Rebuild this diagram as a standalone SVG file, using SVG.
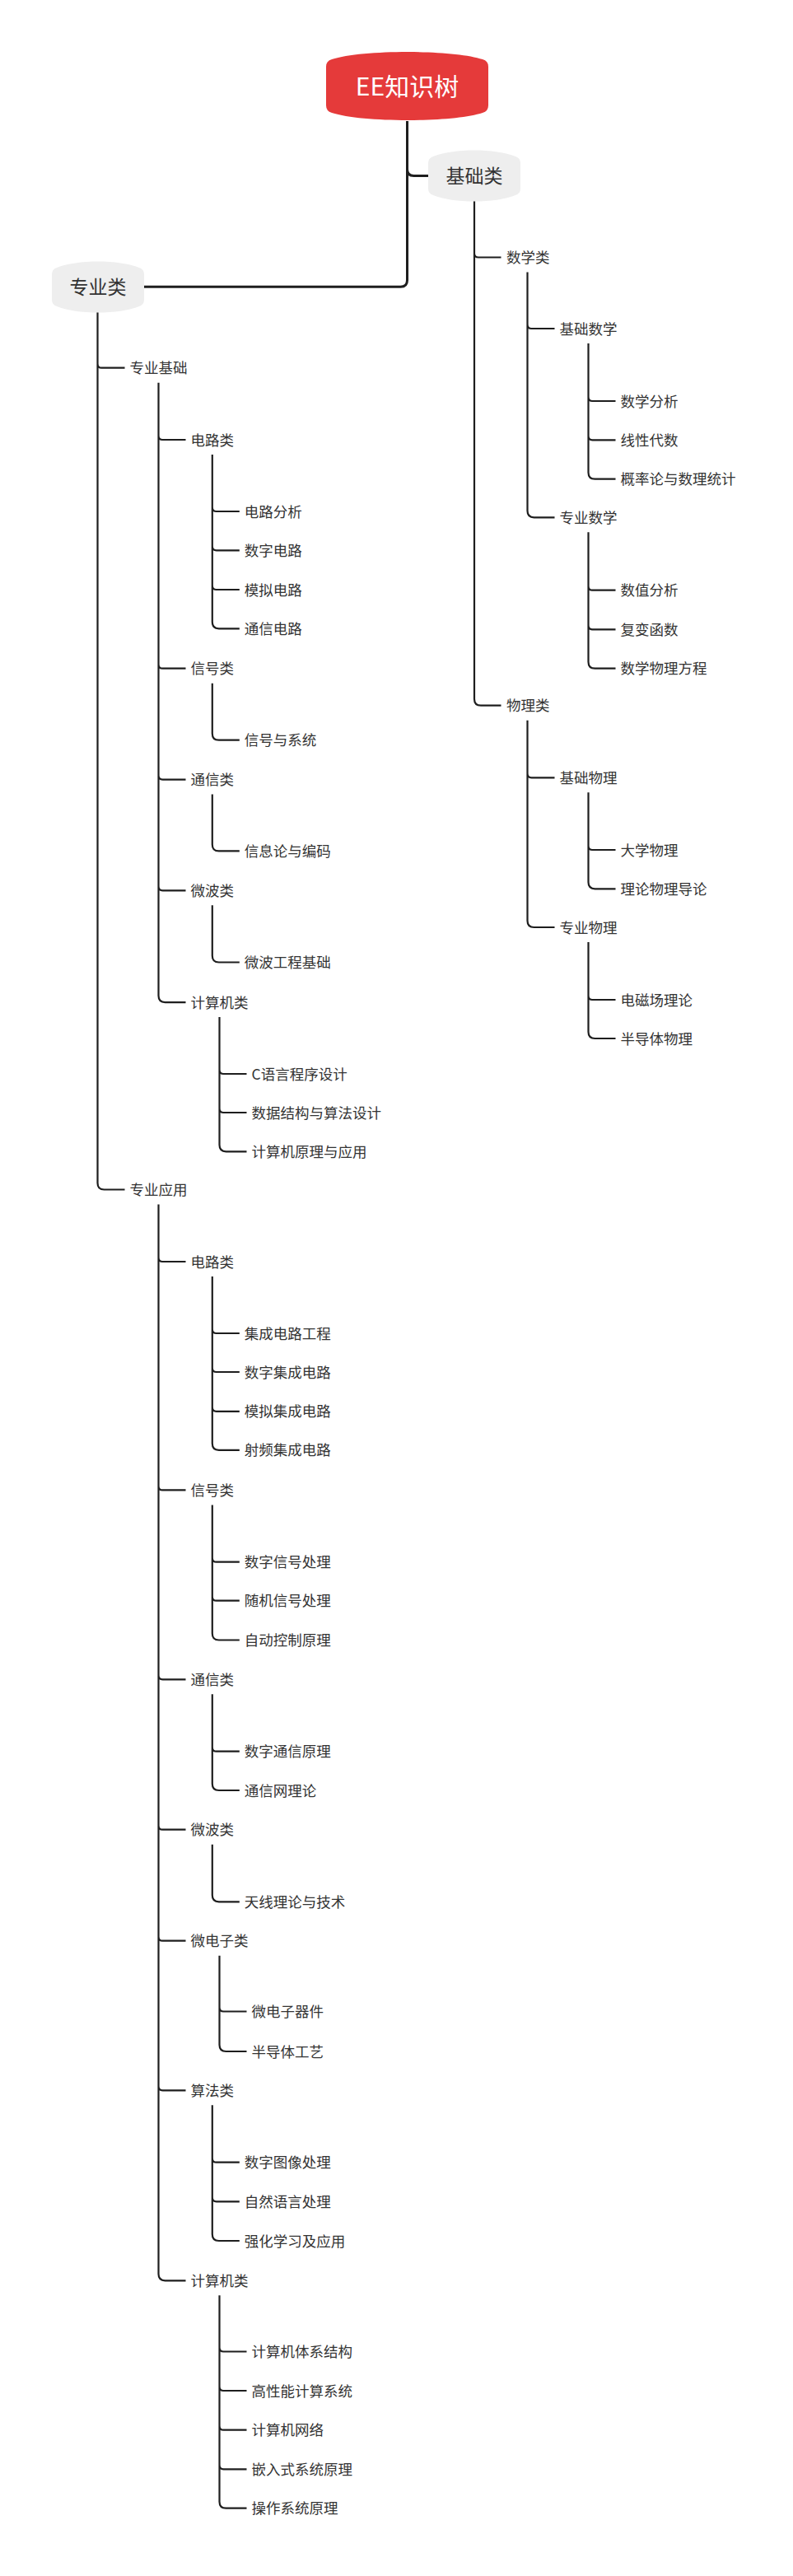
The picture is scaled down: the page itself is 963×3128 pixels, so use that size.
<svg xmlns="http://www.w3.org/2000/svg" width="963" height="3128" viewBox="0 0 963 3128">
<style>
.c1{fill:none;stroke:#1e1e1e;stroke-width:3}
.c{fill:none;stroke:#1e1e1e;stroke-width:2.2}
.t{font-family:"Noto Sans CJK SC","Liberation Sans",sans-serif;font-size:17.5px;fill:#333}
.t1{font-family:"Noto Sans CJK SC","Liberation Sans",sans-serif;font-size:23px;fill:#333;text-anchor:middle}
.t0{font-family:"Noto Sans CJK SC","Liberation Sans",sans-serif;font-size:30px;fill:#fff;text-anchor:middle}
.n1{fill:#eeeeee}
</style>
<rect width="963" height="3128" fill="#fff"/>
<g id="connectors">
<path class="c1" d="M494.5,147 V340.3 Q494.5,348.3 486.5,348.3 H175 M494.5,205.5 Q494.5,213.5 502.5,213.5 H520"/>
<path class="c" d="M576,244 V848.7 Q576,856.7 584,856.7 H608.5 M576,307.5 Q576,312.5 581,312.5 H608.5"/>
<path class="c" d="M640.5,330.5 V620.3 Q640.5,628.3 648.5,628.3 H673.5 M640.5,394 Q640.5,399 645.5,399 H673.5"/>
<path class="c" d="M714.5,417 V573.7 Q714.5,581.7 722.5,581.7 H747.5 M714.5,482 Q714.5,487 719.5,487 H747.5 M714.5,529.3 Q714.5,534.3 719.5,534.3 H747.5"/>
<path class="c" d="M714.5,646.3 V803.7 Q714.5,811.7 722.5,811.7 H747.5 M714.5,711.7 Q714.5,716.7 719.5,716.7 H747.5 M714.5,759.3 Q714.5,764.3 719.5,764.3 H747.5"/>
<path class="c" d="M640.5,874.7 V1118 Q640.5,1126 648.5,1126 H673.5 M640.5,939.3 Q640.5,944.3 645.5,944.3 H673.5"/>
<path class="c" d="M714.5,962.3 V1071.3 Q714.5,1079.3 722.5,1079.3 H747.5 M714.5,1027 Q714.5,1032 719.5,1032 H747.5"/>
<path class="c" d="M714.5,1144 V1253 Q714.5,1261 722.5,1261 H747.5 M714.5,1209 Q714.5,1214 719.5,1214 H747.5"/>
<path class="c" d="M118.5,379 V1436.5 Q118.5,1444.5 126.5,1444.5 H151.5 M118.5,441.7 Q118.5,446.7 123.5,446.7 H151.5"/>
<path class="c" d="M192.5,464.7 V1209.1 Q192.5,1217.1 200.5,1217.1 H225.5 M192.5,529 Q192.5,534 197.5,534 H225.5 M192.5,806.7 Q192.5,811.7 197.5,811.7 H225.5 M192.5,941.6 Q192.5,946.6 197.5,946.6 H225.5 M192.5,1076.3 Q192.5,1081.3 197.5,1081.3 H225.5"/>
<path class="c" d="M257.8,552 V755.3 Q257.8,763.3 265.8,763.3 H290.8 M257.8,616 Q257.8,621 262.8,621 H290.8 M257.8,663.3 Q257.8,668.3 262.8,668.3 H290.8 M257.8,711 Q257.8,716 262.8,716 H290.8"/>
<path class="c" d="M257.8,829.7 V890.7 Q257.8,898.7 265.8,898.7 H290.8"/>
<path class="c" d="M257.8,964.6 V1025.4 Q257.8,1033.4 265.8,1033.4 H290.8"/>
<path class="c" d="M257.8,1099.3 V1160.5 Q257.8,1168.5 265.8,1168.5 H290.8"/>
<path class="c" d="M266.5,1235 V1390.3 Q266.5,1398.3 274.5,1398.3 H299.5 M266.5,1299 Q266.5,1304 271.5,1304 H299.5 M266.5,1346 Q266.5,1351 271.5,1351 H299.5"/>
<path class="c" d="M192.5,1462.5 V2761.3 Q192.5,2769.3 200.5,2769.3 H225.5 M192.5,1527 Q192.5,1532 197.5,1532 H225.5 M192.5,1804.4 Q192.5,1809.4 197.5,1809.4 H225.5 M192.5,2034.3 Q192.5,2039.3 197.5,2039.3 H225.5 M192.5,2216.7 Q192.5,2221.7 197.5,2221.7 H225.5 M192.5,2351.7 Q192.5,2356.7 197.5,2356.7 H225.5 M192.5,2533.3 Q192.5,2538.3 197.5,2538.3 H225.5"/>
<path class="c" d="M257.8,1550 V1752.8 Q257.8,1760.8 265.8,1760.8 H290.8 M257.8,1614 Q257.8,1619 262.8,1619 H290.8 M257.8,1661 Q257.8,1666 262.8,1666 H290.8 M257.8,1708.8 Q257.8,1713.8 262.8,1713.8 H290.8"/>
<path class="c" d="M257.8,1827.4 V1983.5 Q257.8,1991.5 265.8,1991.5 H290.8 M257.8,1891.7 Q257.8,1896.7 262.8,1896.7 H290.8 M257.8,1938.7 Q257.8,1943.7 262.8,1943.7 H290.8"/>
<path class="c" d="M257.8,2057.3 V2166 Q257.8,2174 265.8,2174 H290.8 M257.8,2121.7 Q257.8,2126.7 262.8,2126.7 H290.8"/>
<path class="c" d="M257.8,2239.7 V2301.3 Q257.8,2309.3 265.8,2309.3 H290.8"/>
<path class="c" d="M266.5,2374.7 V2483 Q266.5,2491 274.5,2491 H299.5 M266.5,2437.5 Q266.5,2442.5 271.5,2442.5 H299.5"/>
<path class="c" d="M257.8,2556.3 V2713 Q257.8,2721 265.8,2721 H290.8 M257.8,2620.7 Q257.8,2625.7 262.8,2625.7 H290.8 M257.8,2668.3 Q257.8,2673.3 262.8,2673.3 H290.8"/>
<path class="c" d="M266.5,2787.3 V3037.7 Q266.5,3045.7 274.5,3045.7 H299.5 M266.5,2850.5 Q266.5,2855.5 271.5,2855.5 H299.5 M266.5,2898 Q266.5,2903 271.5,2903 H299.5 M266.5,2945.7 Q266.5,2950.7 271.5,2950.7 H299.5 M266.5,2993.3 Q266.5,2998.3 271.5,2998.3 H299.5"/>
</g>
<g id="root">
<path fill="#e53a3a" d="M396,81 Q396,74 403,72 C440,60 550,60 586,72 Q593,74 593,81 L593,128 Q593,135 586,137 C550,149 440,149 403,137 Q396,135 396,128 Z"/>
<text class="t0" x="494.5" y="115.5">EE知识树</text>
</g>
<g id="n-jichulei">
<path class="n1" d="M520,198 Q520,192 526,190 C550,180 602,180 626,190 Q632,192 632,198 L632,229 Q632,235 626,237 C602,247 550,247 526,237 Q520,235 520,229 Z"/>
<text class="t1" x="576" y="222">基础类</text>
</g>
<g id="n-zhuanyelei">
<path class="n1" d="M63,333 Q63,327 69,325 C93,315 145,315 169,325 Q175,327 175,333 L175,364 Q175,370 169,372 C145,382 93,382 69,372 Q63,370 63,364 Z"/>
<text class="t1" x="119" y="357">专业类</text>
</g>
<g id="n-shuxuelei"><text class="t" x="615" y="319">数学类</text></g>
<g id="n-jichushuxue"><text class="t" x="679.5" y="405.5">基础数学</text></g>
<g id="n-shuxuefenxi"><text class="t" x="753.5" y="493.5">数学分析</text></g>
<g id="n-xianxingdaishu"><text class="t" x="753.5" y="540.8">线性代数</text></g>
<g id="n-gailvlun"><text class="t" x="753.5" y="588.2">概率论与数理统计</text></g>
<g id="n-zhuanyeshuxue"><text class="t" x="679.5" y="634.8">专业数学</text></g>
<g id="n-shuzhifenxi"><text class="t" x="753.5" y="723.2">数值分析</text></g>
<g id="n-fubianhanshu"><text class="t" x="753.5" y="770.8">复变函数</text></g>
<g id="n-shuxuewulifangcheng"><text class="t" x="753.5" y="818.2">数学物理方程</text></g>
<g id="n-wulilei"><text class="t" x="615" y="863.2">物理类</text></g>
<g id="n-jichuwuli"><text class="t" x="679.5" y="950.8">基础物理</text></g>
<g id="n-daxuewuli"><text class="t" x="753.5" y="1038.5">大学物理</text></g>
<g id="n-lilunwulidaolun"><text class="t" x="753.5" y="1085.8">理论物理导论</text></g>
<g id="n-zhuanyewuli"><text class="t" x="679.5" y="1132.5">专业物理</text></g>
<g id="n-diancichanglilun"><text class="t" x="753.5" y="1220.5">电磁场理论</text></g>
<g id="n-bandaotiwuli"><text class="t" x="753.5" y="1267.5">半导体物理</text></g>
<g id="n-zhuanyejichu"><text class="t" x="157.5" y="453.2">专业基础</text></g>
<g id="n-dianlulei1"><text class="t" x="231.5" y="540.5">电路类</text></g>
<g id="n-dianlufenxi"><text class="t" x="296.8" y="627.5">电路分析</text></g>
<g id="n-shuzidianlu"><text class="t" x="296.8" y="674.8">数字电路</text></g>
<g id="n-monidianlu"><text class="t" x="296.8" y="722.5">模拟电路</text></g>
<g id="n-tongxindianlu"><text class="t" x="296.8" y="769.8">通信电路</text></g>
<g id="n-xinhaolei1"><text class="t" x="231.5" y="818.2">信号类</text></g>
<g id="n-xinhaoyuxitong"><text class="t" x="296.8" y="905.2">信号与系统</text></g>
<g id="n-tongxinlei1"><text class="t" x="231.5" y="953.1">通信类</text></g>
<g id="n-xinxilun"><text class="t" x="296.8" y="1039.9">信息论与编码</text></g>
<g id="n-weibolei1"><text class="t" x="231.5" y="1087.8">微波类</text></g>
<g id="n-weibogongcheng"><text class="t" x="296.8" y="1175">微波工程基础</text></g>
<g id="n-jisuanjilei1"><text class="t" x="231.5" y="1223.6">计算机类</text></g>
<g id="n-cyuyan"><text class="t" x="305.5" y="1310.5">C语言程序设计</text></g>
<g id="n-shujujiegou"><text class="t" x="305.5" y="1357.5">数据结构与算法设计</text></g>
<g id="n-jisuanjiyuanli"><text class="t" x="305.5" y="1404.8">计算机原理与应用</text></g>
<g id="n-zhuanyeyingyong"><text class="t" x="157.5" y="1451">专业应用</text></g>
<g id="n-dianlulei2"><text class="t" x="231.5" y="1538.5">电路类</text></g>
<g id="n-jichengdianlugongcheng"><text class="t" x="296.8" y="1625.5">集成电路工程</text></g>
<g id="n-shuzijichengdianlu"><text class="t" x="296.8" y="1672.5">数字集成电路</text></g>
<g id="n-monijichengdianlu"><text class="t" x="296.8" y="1720.3">模拟集成电路</text></g>
<g id="n-shepinjichengdianlu"><text class="t" x="296.8" y="1767.3">射频集成电路</text></g>
<g id="n-xinhaolei2"><text class="t" x="231.5" y="1815.9">信号类</text></g>
<g id="n-shuzixinhaochuli"><text class="t" x="296.8" y="1903.2">数字信号处理</text></g>
<g id="n-suijixinhaochuli"><text class="t" x="296.8" y="1950.2">随机信号处理</text></g>
<g id="n-zidongkongzhi"><text class="t" x="296.8" y="1998">自动控制原理</text></g>
<g id="n-tongxinlei2"><text class="t" x="231.5" y="2045.8">通信类</text></g>
<g id="n-shuzitongxin"><text class="t" x="296.8" y="2133.2">数字通信原理</text></g>
<g id="n-tongxinwang"><text class="t" x="296.8" y="2180.5">通信网理论</text></g>
<g id="n-weibolei2"><text class="t" x="231.5" y="2228.2">微波类</text></g>
<g id="n-tianxian"><text class="t" x="296.8" y="2315.8">天线理论与技术</text></g>
<g id="n-weidianzilei"><text class="t" x="231.5" y="2363.2">微电子类</text></g>
<g id="n-weidianziqijian"><text class="t" x="305.5" y="2449">微电子器件</text></g>
<g id="n-bandaotigongyi"><text class="t" x="305.5" y="2497.5">半导体工艺</text></g>
<g id="n-suanfalei"><text class="t" x="231.5" y="2544.8">算法类</text></g>
<g id="n-shuzituxiang"><text class="t" x="296.8" y="2632.2">数字图像处理</text></g>
<g id="n-ziranyuyan"><text class="t" x="296.8" y="2679.8">自然语言处理</text></g>
<g id="n-qianghuaxuexi"><text class="t" x="296.8" y="2727.5">强化学习及应用</text></g>
<g id="n-jisuanjilei2"><text class="t" x="231.5" y="2775.8">计算机类</text></g>
<g id="n-tixijiegou"><text class="t" x="305.5" y="2862">计算机体系结构</text></g>
<g id="n-gaoxingneng"><text class="t" x="305.5" y="2909.5">高性能计算系统</text></g>
<g id="n-jisuanjiwangluo"><text class="t" x="305.5" y="2957.2">计算机网络</text></g>
<g id="n-qianrushi"><text class="t" x="305.5" y="3004.8">嵌入式系统原理</text></g>
<g id="n-caozuoxitong"><text class="t" x="305.5" y="3052.2">操作系统原理</text></g>
</svg>
